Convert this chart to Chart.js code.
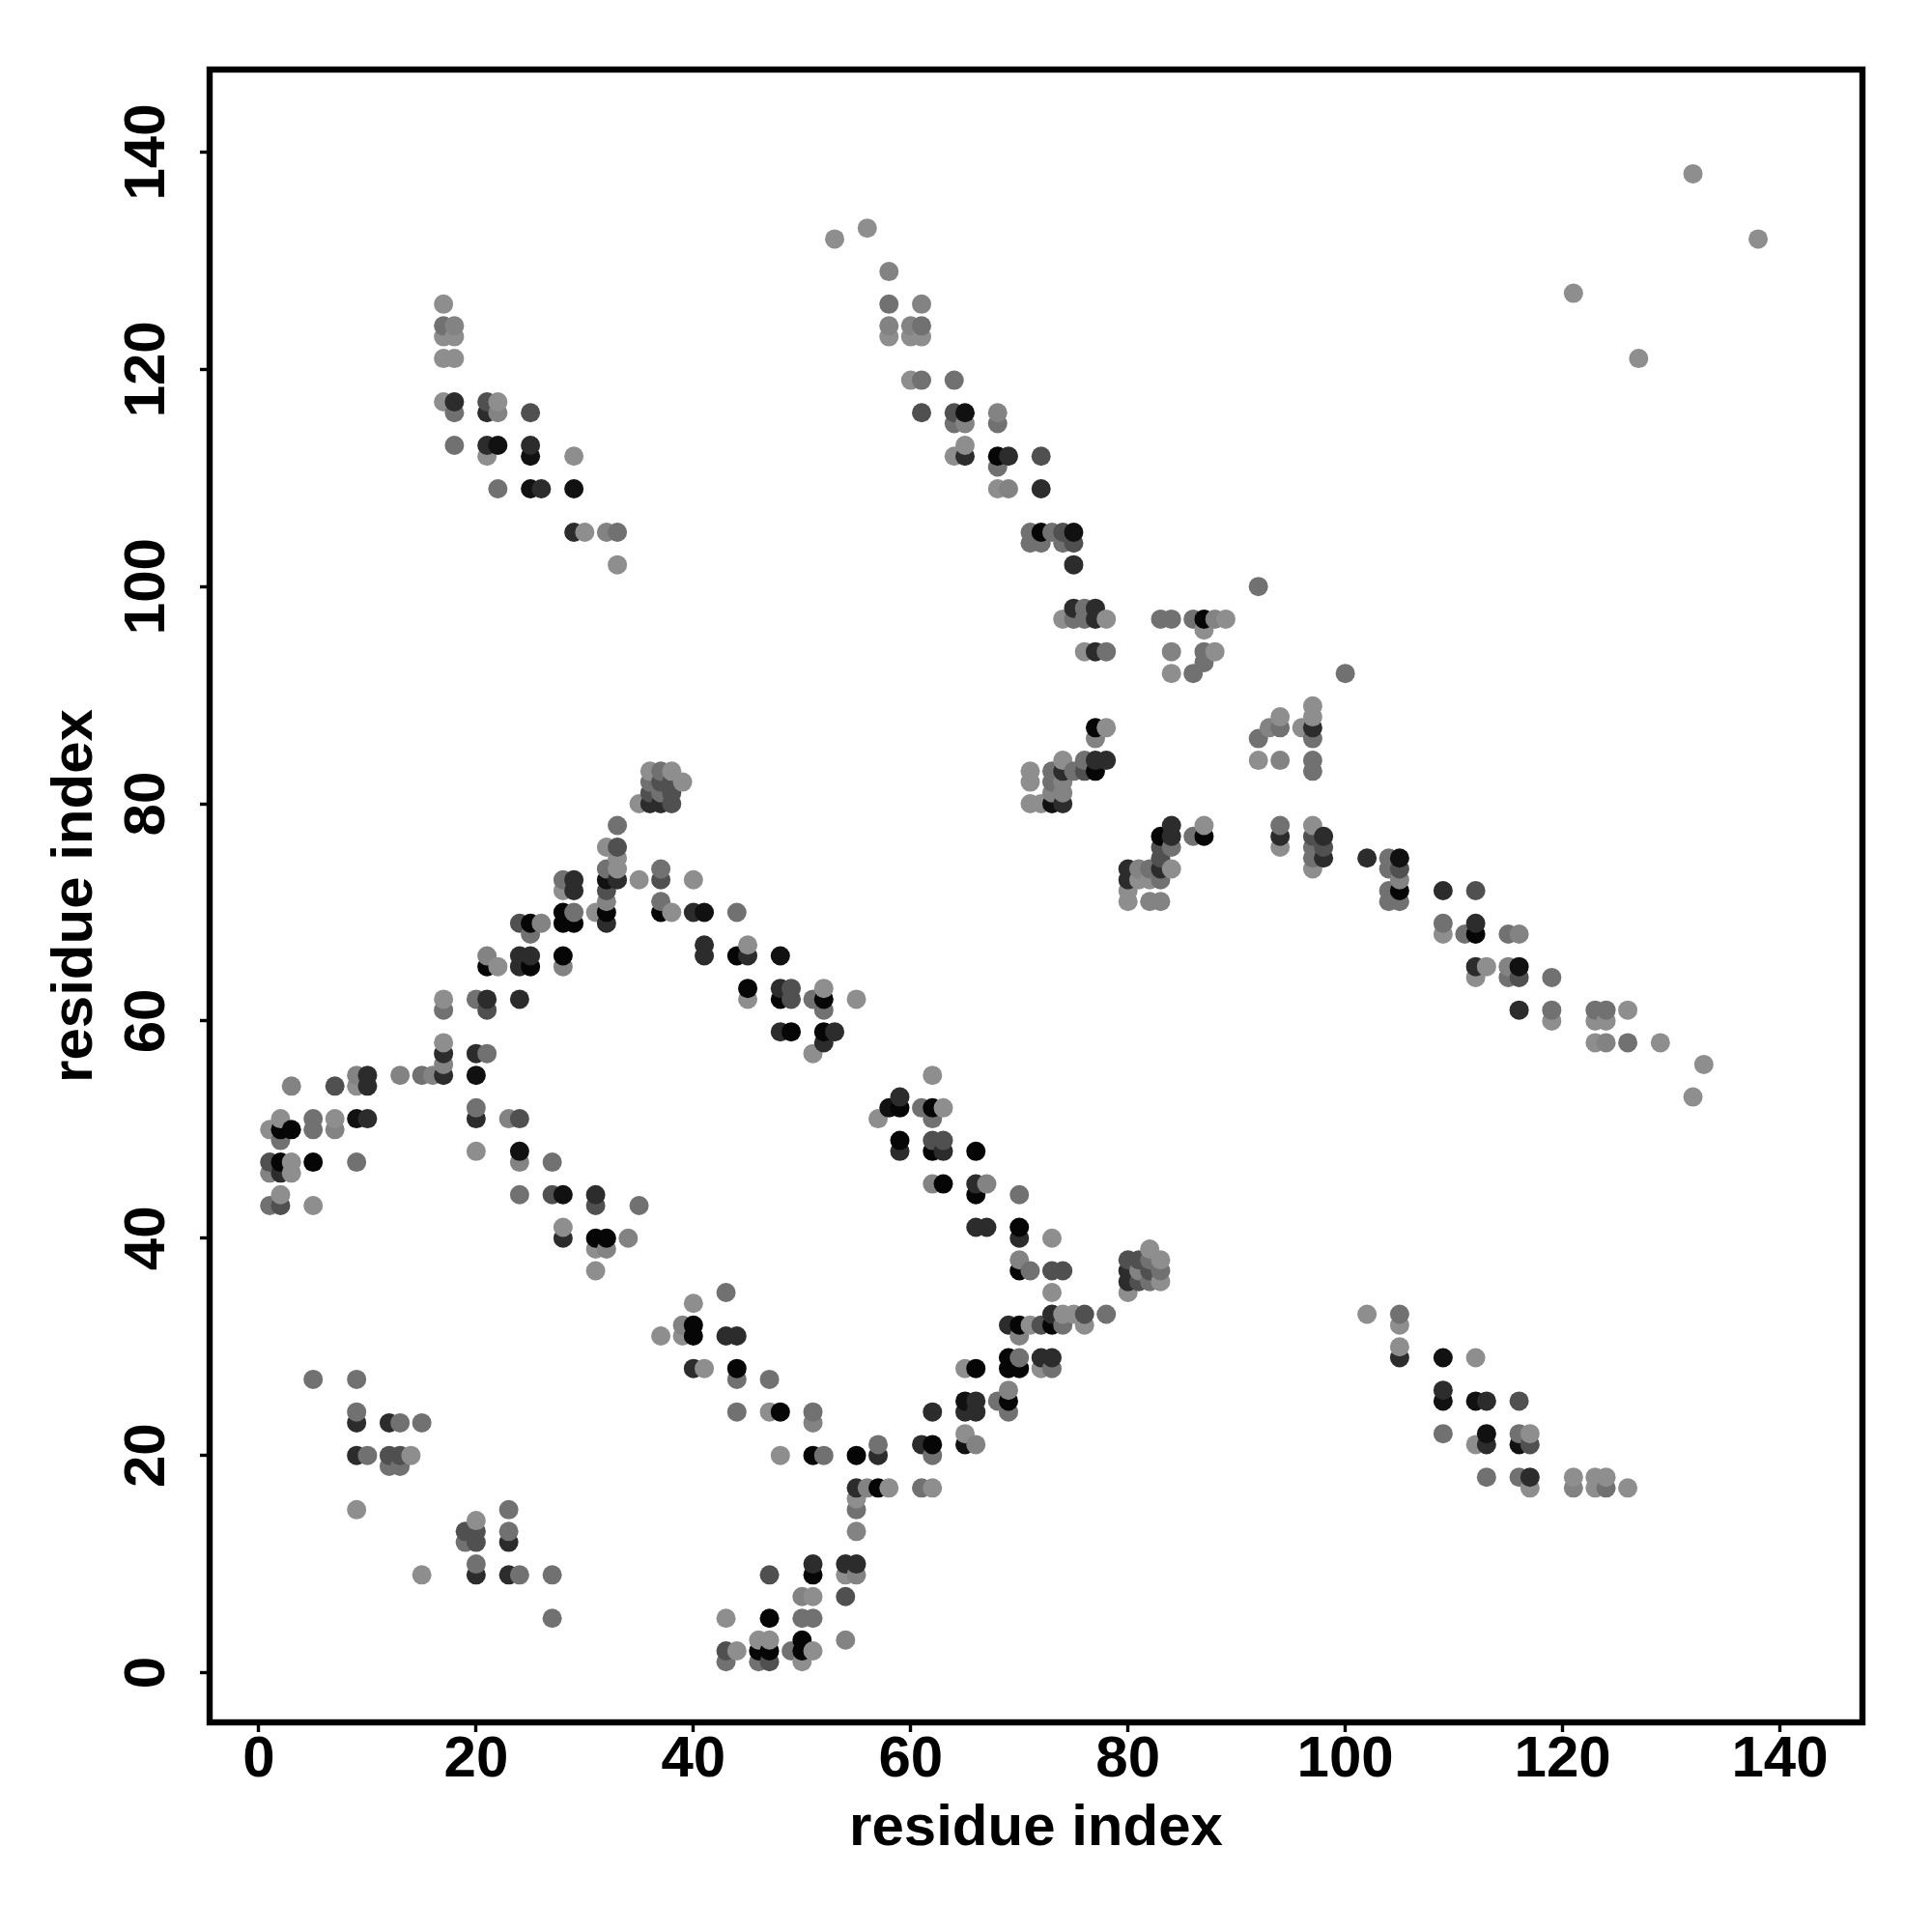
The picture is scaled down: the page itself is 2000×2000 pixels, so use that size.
<!DOCTYPE html>
<html>
<head>
<meta charset="utf-8">
<title>residue contacts</title>
<script src="https://cdn.jsdelivr.net/npm/chart.js@4/dist/chart.umd.js"></script>
<style>
  html, body { margin: 0; padding: 0; background: #fff; }
  canvas { display: block; }
</style>
</head>
<body>
<canvas id="contactMap" width="2000" height="2000"></canvas>
<script>
// contact strength levels
const L = 0.02, ML = 0.1, M = 0.22, DM = 0.45, D = 0.7, B = 0.88, K = 0.96;

const tickValues = [0, 20, 40, 60, 80, 100, 120, 140];
const axisLabel = "residue index";

// one line per residue i, same layout in all three arrays
const residueI = [
  1,1,1,1,
  2,2,2,2,2,2,2,
  3,3,3,3,
  5,5,5,5,5,
  7,7,7,
  9,9,9,9,9,9,9,9,9,
  10,10,10,10,
  12,12,12,
  13,13,13,13,
  14,
  15,15,15,
  16,
  17,17,17,17,17,17,17,17,17,17,17,
  18,18,18,18,18,18,
  19,19,
  20,20,20,20,20,20,20,20,20,20,20,
  21,21,21,21,21,21,21,21,21,
  22,22,22,22,22,
  23,23,23,23,23,
  24,24,24,24,24,24,24,24,24,
  25,25,25,25,25,25,25,25,
  26,26,
  27,27,27,27,
  28,28,28,28,28,28,28,28,28,
  29,29,29,29,29,29,29,
  30,
  31,31,31,31,31,31,
  32,32,32,32,32,32,32,32,32,32,
  33,33,33,33,33,33,33,
  34,
  35,35,35,
  36,36,36,36,
  37,37,37,37,37,37,37,37,37,
  38,38,38,38,38,
  39,39,39,
  40,40,40,40,40,40,
  41,41,41,41,
  43,43,43,43,43,
  44,44,44,44,44,44,44,
  45,45,45,45,
  46,46,46,
  47,47,47,47,47,47,47,
  48,48,48,48,48,48,
  49,49,49,49,
  50,50,50,50,50,
  51,51,51,51,51,51,51,51,51,51,
  52,52,52,52,52,52,
  53,53,
  54,54,54,54,
  55,55,55,55,55,55,55,55,
  56,56,
  57,57,57,57,
  58,58,58,58,58,58,
  59,59,59,59,
  60,60,60,
  61,61,61,61,61,61,61,61,
  62,62,62,62,62,62,62,62,62,62,
  63,63,63,63,
  64,64,64,64,
  65,65,65,65,65,65,65,65,65,
  66,66,66,66,66,66,66,66,
  67,67,
  68,68,68,68,68,68,
  69,69,69,69,69,69,69,69,
  70,70,70,70,70,70,70,70,70,
  71,71,71,71,71,71,71,
  72,72,72,72,72,72,72,72,
  73,73,73,73,73,73,73,73,73,73,73,73,
  74,74,74,74,74,74,74,74,74,74,74,
  75,75,75,75,75,75,75,
  76,76,76,76,76,76,76,
  77,77,77,77,77,77,77,
  78,78,78,78,78,
  80,80,80,80,80,80,80,80,
  81,81,81,81,81,
  82,82,82,82,82,82,82,
  83,83,83,83,83,83,83,83,83,83,
  84,84,84,84,84,84,84,
  86,86,86,
  87,87,87,87,87,87,
  88,88,
  89,
  92,92,92,
  93,
  94,94,94,94,94,94,
  96,
  97,97,97,97,97,97,97,97,97,97,97,
  98,98,98,
  100,
  102,102,
  104,104,104,104,
  105,105,105,105,105,105,105,105,105,
  109,109,109,109,109,109,109,
  111,
  112,112,112,112,112,112,112,112,
  113,113,113,113,113,
  115,115,115,
  116,116,116,116,116,116,116,116,
  117,117,117,117,
  119,119,119,
  121,121,121,
  123,123,123,123,123,
  124,124,124,124,124,
  126,126,126,
  127,
  129,
  132,132,
  133,
  138,
];

const residueJ = [
  43,46,47,50,
  43,44,46,47,49,50,51,
  46,47,50,54,
  27,43,47,50,51,
  50,51,54,
  15,20,23,24,27,47,51,54,55,
  20,51,54,55,
  19,20,23,
  19,20,23,55,
  20,
  9,23,55,
  55,
  55,56,57,58,61,62,117,121,123,124,126,
  113,116,117,121,123,124,
  12,13,
  9,10,12,13,14,48,51,52,55,57,62,
  57,61,62,65,66,112,113,116,117,
  65,109,113,116,117,
  9,12,13,15,51,
  9,44,47,48,51,62,65,66,69,
  65,66,68,69,109,112,113,116,
  69,109,
  5,9,44,47,
  40,41,44,65,66,69,70,72,73,
  69,70,72,73,105,109,112,
  105,
  37,39,40,43,44,70,
  39,40,69,70,71,72,73,74,76,105,
  73,74,75,76,78,102,105,
  40,
  43,73,80,
  80,81,82,83,
  31,70,71,73,74,80,81,82,83,
  70,80,81,82,83,
  31,32,82,
  28,31,32,34,70,73,
  28,66,67,70,
  1,2,5,31,35,
  2,24,27,28,31,66,70,
  62,63,66,67,
  1,2,3,
  1,2,3,5,9,24,27,
  20,24,59,62,63,66,
  2,59,62,63,
  1,2,3,5,7,
  2,5,7,9,10,20,23,24,57,62,
  20,58,59,61,62,63,
  59,132,
  3,7,9,10,
  9,10,13,15,16,17,20,62,
  17,133,
  17,20,21,51,
  17,52,123,124,126,129,
  48,49,52,53,
  119,123,124,
  17,21,52,116,119,123,124,126,
  17,20,21,24,45,48,49,51,52,55,
  45,48,49,52,
  112,115,116,119,
  21,22,24,25,28,112,113,115,116,
  21,24,25,28,41,44,45,48,
  41,45,
  25,109,111,112,115,116,
  24,25,26,28,29,32,109,112,
  28,29,31,32,37,38,40,41,44,
  32,37,80,82,83,104,105,
  28,29,32,80,104,105,109,112,
  28,29,32,33,35,37,40,80,81,82,83,105,
  32,33,37,80,81,82,83,84,97,104,105,
  33,83,97,98,102,104,105,
  32,33,83,84,94,97,98,
  83,84,86,87,94,97,98,
  33,84,87,94,97,
  35,36,37,38,71,72,73,74,
  36,37,38,73,74,
  36,37,38,39,71,73,74,
  36,37,38,71,73,74,75,76,77,97,
  74,76,77,78,92,94,97,
  77,92,97,
  77,78,93,94,96,97,
  94,97,
  97,
  84,86,100,
  87,
  76,77,78,84,87,88,
  87,
  74,75,76,77,78,83,84,86,87,88,89,
  75,76,77,
  92,
  33,75,
  71,72,74,75,
  29,30,32,33,71,72,73,74,75,
  22,25,26,29,68,69,72,
  68,
  21,25,29,64,65,68,69,72,
  18,21,22,25,65,
  64,65,68,
  18,21,22,25,61,64,65,68,
  17,18,21,22,
  60,61,64,
  17,18,127,
  17,18,58,60,61,
  17,18,58,60,61,
  17,58,61,
  121,
  58,
  53,138,
  56,
  132,
];

const contactStrength = [
  M,ML,DM,L,
  DM,L,D,K,M,K,L,
  L,L,K,ML,
  M,L,K,M,M,
  ML,L,DM,
  L,D,D,M,M,M,B,L,ML,
  M,D,D,D,
  M,DM,D,
  M,DM,M,ML,
  L,
  L,M,M,
  ML,
  D,ML,D,L,M,L,L,L,L,M,L,
  M,M,D,L,L,ML,
  M,DM,
  D,M,DM,DM,L,L,D,M,B,D,M,
  M,DM,D,K,ML,L,D,D,DM,
  L,M,B,ML,L,
  D,D,M,M,ML,
  M,M,ML,B,DM,D,D,D,DM,
  K,D,M,K,B,B,D,DM,
  ML,D,
  M,M,DM,M,
  D,L,B,ML,K,K,K,L,M,
  K,M,D,D,D,B,L,
  L,
  L,L,K,DM,D,L,
  ML,K,D,K,ML,DM,B,M,L,ML,
  D,L,L,DM,M,L,M,
  ML,
  M,L,L,
  D,DM,M,L,
  L,K,M,DM,M,D,M,DM,M,
  L,DM,DM,DM,L,
  L,ML,L,
  D,K,K,L,D,L,
  L,D,D,B,
  M,DM,L,D,M,
  L,M,M,K,D,K,M,
  L,K,D,L,
  M,K,L,
  DM,K,L,K,DM,L,M,
  L,K,D,K,D,B,
  M,K,DM,DM,
  L,K,K,M,ML,
  L,M,L,K,D,K,ML,M,L,M,
  M,D,K,M,K,L,
  D,L,
  ML,DM,L,D,
  ML,D,ML,M,L,D,K,L,
  ML,L,
  K,D,M,L,
  L,B,L,ML,M,ML,
  D,K,K,D,
  L,L,ML,
  M,D,M,DM,M,L,M,ML,
  L,M,K,D,ML,K,DM,M,K,L,
  K,D,DM,L,
  L,M,DM,M,
  B,L,D,B,L,D,L,ML,B,
  ML,D,D,K,D,K,D,K,
  D,ML,
  M,L,M,K,M,ML,
  M,K,ML,K,K,D,ML,D,
  K,M,ML,K,K,ML,D,K,M,
  L,M,L,L,L,M,M,
  L,D,DM,L,M,K,D,DM,
  M,D,K,D,L,DM,L,B,ML,M,M,M,
  M,L,DM,D,ML,ML,D,L,L,M,DM,
  L,M,M,D,D,DM,B,
  L,DM,DM,M,L,M,M,
  K,D,ML,K,D,D,D,
  M,D,L,M,L,
  L,D,D,DM,L,L,D,D,
  DM,ML,DM,L,ML,
  M,DM,M,L,ML,L,M,
  L,M,L,ML,M,D,DM,DM,K,M,
  L,M,D,D,L,ML,M,
  M,M,M,
  K,L,M,M,L,K,
  L,ML,
  L,
  L,M,M,
  ML,
  L,D,M,ML,M,L,
  L,
  L,M,M,DM,L,M,M,M,D,L,L,
  D,DM,D,
  M,
  L,D,
  M,M,M,M,
  D,L,L,M,M,K,ML,DM,B,
  M,B,D,B,L,M,D,
  M,
  L,B,L,L,D,K,D,DM,
  M,D,B,D,L,
  M,ML,M,
  M,B,M,DM,D,DM,B,ML,
  L,D,DM,L,
  L,M,M,
  ML,L,L,
  L,L,L,L,M,
  M,L,ML,L,M,
  L,M,L,
  L,
  L,
  L,L,
  L,
  L,
];

function greyFor(strength) {
  const v = Math.round(145 * (1 - strength));
  return `rgb(${v}, ${v}, ${v})`;
}

const framePlugin = {
  id: "frame",
  afterDatasetsDraw(chart) {
    const { ctx, chartArea } = chart;
    ctx.save();
    ctx.strokeStyle = "#000";
    ctx.lineWidth = 6.4;
    ctx.strokeRect(chartArea.left, chartArea.top, chartArea.right - chartArea.left, chartArea.bottom - chartArea.top);
    ctx.restore();
  },
};

function axisOptions(fitSize, axisMin) {
  return {
    type: "linear",
    min: axisMin,
    max: 147.6,
    border: { display: false },
    grid: { drawOnChartArea: false, drawTicks: true, tickLength: 10, tickWidth: 3.4, tickColor: "#000" },
    afterBuildTicks(scale) {
      scale.ticks = tickValues.map((v) => ({ value: v }));
    },
    afterFit(scale) {
      if (scale.isHorizontal()) scale.height = fitSize;
      else scale.width = fitSize;
    },
    title: {
      display: true,
      text: axisLabel,
      color: "#000",
      font: { family: "'Liberation Sans'", weight: "bold", size: 60 },
    },
    ticks: {
      color: "#000",
      autoSkip: false,
      font: { family: "'Liberation Sans'", weight: "bold", size: 60 },
    },
  };
}

const xAxis = axisOptions(217, -4.53);
xAxis.ticks.padding = -7;
xAxis.ticks.maxRotation = 0;
xAxis.title.padding = { top: 0, bottom: 71 };

const yAxis = axisOptions(217, -4.58);
yAxis.ticks.minRotation = 90;
yAxis.ticks.maxRotation = 90;
yAxis.ticks.crossAlign = "center";
yAxis.ticks.padding = 3;
yAxis.title.padding = { top: 42, bottom: 0 };

new Chart(document.getElementById("contactMap").getContext("2d"), {
  type: "scatter",
  data: {
    datasets: [
      {
        data: residueI.map((x, idx) => ({ x: x, y: residueJ[idx] })),
        pointBackgroundColor: contactStrength.map(greyFor),
        pointBorderWidth: 0,
        pointRadius: 10,
        pointHoverRadius: 10,
        clip: false,
      },
    ],
  },
  options: {
    responsive: false,
    animation: false,
    devicePixelRatio: 1,
    layout: { padding: { left: 0, top: 72, right: 72, bottom: 0 } },
    plugins: { legend: { display: false }, tooltip: { enabled: false } },
    scales: { x: xAxis, y: yAxis },
  },
  plugins: [framePlugin],
});
if (residueI.length !== residueJ.length || residueI.length !== contactStrength.length) {
  throw new Error(`array lengths differ ${residueI.length} ${residueJ.length} ${contactStrength.length}`);
}
</script>
</body>
</html>
